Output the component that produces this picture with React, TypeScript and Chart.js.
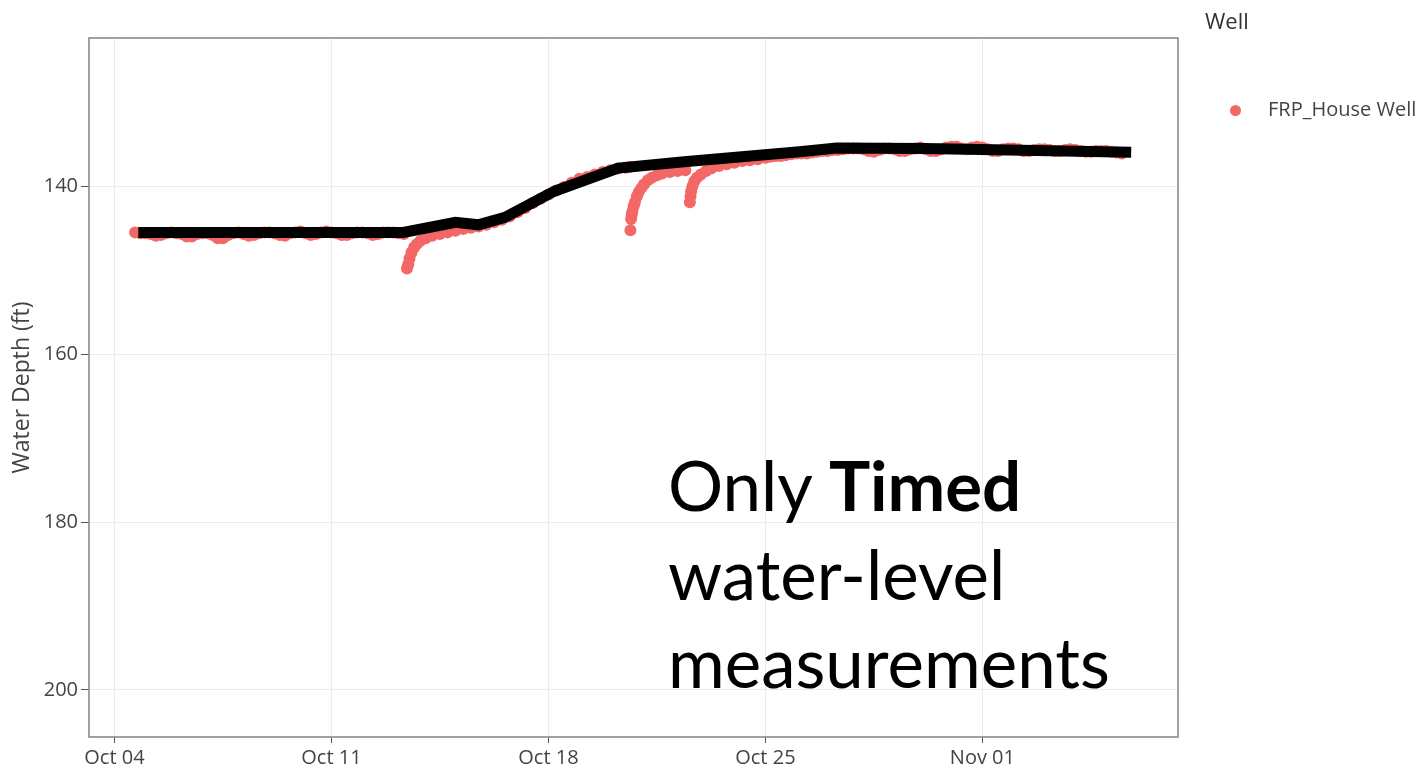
import React, { useEffect, useRef } from "react";
import { Chart, registerables } from "chart.js";

Chart.register(...registerables);

// ---------- axis ticks ----------
// x values are days since Oct 04 00:00
const xTickDays = [0, 7, 14, 21, 28];
const xTickLabels = ["Oct 04", "Oct 11", "Oct 18", "Oct 25", "Nov 01"];
const yTickValues = [140, 160, 180, 200];
const xMin = -0.82;
const xMax = 34.31;
const yMin = 122.35;
const yMax = 205.6;

// ---------- logger readings (FRP_House Well), water depth in ft ----------
// Before the first pumping event: readings every 4 h starting Oct 04 16:00
const preStartHour = 16;
const preStepHours = 4;
const preDepths = [
  145.5, 145.6,
  145.6, 145.7, 145.9, 145.8, 145.6, 145.5,
  145.6, 145.7, 146.0, 146.0, 145.7, 145.6,
  145.6, 145.8, 146.2, 146.2, 145.8, 145.6,
  145.5, 145.7, 145.9, 145.8, 145.6, 145.5,
  145.5, 145.6, 145.8, 145.9, 145.6, 145.5,
  145.4, 145.6, 145.8, 145.7, 145.5, 145.4,
  145.5, 145.6, 145.8, 145.8, 145.6, 145.5,
  145.5, 145.6, 145.8, 145.7, 145.5, 145.5,
  145.5, 145.6, 145.7,
];

// Recovery after pumping on Oct 13 and rise through Oct 20 (hours since Oct 04 00:00)
const recovery1Hours = [
  226.5, 227.5, 228.5, 230, 232, 234, 237, 241, 246, 252, 258, 264, 270, 276,
  282, 288, 294, 300, 306, 312, 318, 324, 330, 336, 342, 348, 354, 360, 366,
  372, 378, 384, 390, 396, 399,
];
const recovery1Depths = [
  149.8, 149.3, 148.6, 147.9, 147.3, 146.9, 146.5, 146.2, 145.9, 145.7, 145.5,
  145.3, 145.1, 144.95, 144.8, 144.6, 144.3, 144.0, 143.6, 143.1, 142.6, 142.0,
  141.5, 141.0, 140.5, 140.1, 139.6, 139.1, 138.9, 138.6, 138.3, 138.1, 137.9,
  137.8, 137.7,
];

// Recovery after pumping on Oct 20
const recovery2Hours = [
  399.5, 400, 400.5, 401, 402, 403, 404.5, 406, 408, 410, 413, 416, 420, 424,
  430, 436, 442,
];
const recovery2Depths = [
  145.25, 143.9, 143.4, 143.0, 142.4, 141.9, 141.2, 140.7, 140.2, 139.8, 139.3,
  139.0, 138.7, 138.5, 138.3, 138.2, 138.1,
];

// Recovery after pumping on Oct 22
const recovery3Hours = [
  445.5, 446, 446.5, 447.5, 449, 451, 454, 458, 462, 468, 474, 480, 486, 492,
  498, 504,
];
const recovery3Depths = [
  141.9, 141.2, 140.6, 140.0, 139.4, 139.0, 138.6, 138.2, 137.9, 137.6, 137.4,
  137.2, 137.0, 136.9, 136.8, 136.6,
];

// After the last pumping event: readings every 4 h starting Oct 25 04:00
const postStartHour = 508;
const postStepHours = 4;
const postDepths = [
  136.5, 136.4, 136.4, 136.3, 136.2,
  136.1, 136.1, 136.1, 136.0, 135.9, 135.8,
  135.8, 135.7, 135.7, 135.6, 135.5, 135.5,
  135.5, 135.6, 135.8, 135.9, 135.7, 135.5,
  135.5, 135.6, 135.8, 135.8, 135.6, 135.5,
  135.4, 135.6, 135.8, 135.8, 135.6, 135.4,
  135.3, 135.3, 135.5, 135.6, 135.4, 135.3,
  135.4, 135.6, 135.8, 135.8, 135.6, 135.5,
  135.5, 135.6, 135.8, 135.8, 135.7, 135.6,
  135.6, 135.7, 135.8, 135.8, 135.7, 135.6,
  135.7, 135.8, 135.9, 135.9, 135.8, 135.8,
  135.8, 135.9, 136.0, 136.1,
];

// ---------- timed (manual) water-level measurements ----------
const timedDays = [0.77, 9.32, 11.0, 11.74, 12.6, 14.19, 16.25, 18.38, 22.1, 23.3, 26.1, 27.5, 32.8];
const timedDepths = [145.5, 145.5, 144.3, 144.6, 143.7, 140.6, 137.85, 137.1, 135.9, 135.45, 135.5, 135.6, 135.95];

const wellName = "FRP_House Well";
const legendTitle = "Well";
const yTitle = "Water Depth (ft)";

const RED = "#F46767";

function regular(startHour: number, step: number, values: number[]) {
  return values.map((v, i) => ({ x: (startHour + i * step) / 24, y: v }));
}
function paired(hours: number[], values: number[]) {
  return values.map((v, i) => ({ x: hours[i] / 24, y: v }));
}

const framePlugin = {
  id: "frame",
  afterDraw(chart: any) {
    const { ctx, chartArea } = chart;
    ctx.save();
    ctx.strokeStyle = "#8a8a8a";
    ctx.lineWidth = 1.6;
    ctx.strokeRect(chartArea.left, chartArea.top, chartArea.right - chartArea.left, chartArea.bottom - chartArea.top);
    ctx.restore();
  },
};

export default function App() {
  const ref = useRef<HTMLCanvasElement | null>(null);

  useEffect(() => {
    if (!ref.current) return;
    const wellPoints = [
      ...regular(preStartHour, preStepHours, preDepths),
      ...paired(recovery1Hours, recovery1Depths),
      ...paired(recovery2Hours, recovery2Depths),
      ...paired(recovery3Hours, recovery3Depths),
      ...regular(postStartHour, postStepHours, postDepths),
    ];
    const timedPoints = timedDays.map((d, i) => ({ x: d, y: timedDepths[i] }));
    const tickFont = { family: "'Open Sans'", size: 20 };
    const chart = new Chart(ref.current, {
      type: "scatter",
      data: {
        datasets: [
          {
            label: "Timed",
            data: timedPoints,
            showLine: true,
            borderColor: "#000",
            backgroundColor: "#000",
            borderWidth: 11,
            borderCapStyle: "butt",
            borderJoinStyle: "miter",
            pointRadius: 0,
            order: 0,
          } as any,
          {
            label: wellName,
            data: wellPoints,
            backgroundColor: RED,
            borderWidth: 0,
            pointRadius: 6,
            order: 1,
          },
        ],
      },
      options: {
        responsive: false,
        animation: false,
        layout: { padding: { left: 0, top: 38, right: 247, bottom: 0 } },
        plugins: {
          legend: { display: false },
          tooltip: { enabled: false },
        },
        scales: {
          x: {
            type: "linear",
            min: xMin,
            max: xMax,
            afterBuildTicks: (axis: any) => {
              axis.ticks = xTickDays.map((v) => ({ value: v }));
            },
            afterFit: (axis: any) => {
              axis.height = 35;
            },
            ticks: {
              autoSkip: false,
              maxRotation: 0,
              color: "#444",
              font: tickFont,
              padding: 3,
              callback: (v: any) => {
                const i = xTickDays.indexOf(Number(v));
                return i >= 0 ? xTickLabels[i] : "";
              },
            },
            grid: { color: "#ebebeb", lineWidth: 1, tickColor: "#555", tickLength: 6 },
            border: { display: false },
          },
          y: {
            type: "linear",
            reverse: true,
            min: yMin,
            max: yMax,
            afterBuildTicks: (axis: any) => {
              axis.ticks = yTickValues.map((v) => ({ value: v }));
            },
            afterFit: (axis: any) => {
              axis.width = 89;
            },
            ticks: { color: "#444", font: tickFont, padding: 3 },
            grid: { color: "#ebebeb", lineWidth: 1, tickColor: "#555", tickLength: 8 },
            border: { display: false },
            title: {
              display: true,
              text: yTitle,
              color: "#444",
              font: { family: "'Open Sans'", size: 23 },
              padding: { top: 9, bottom: 0 },
            },
          },
        },
      },
      plugins: [framePlugin],
    });
    return () => chart.destroy();
  }, []);

  return (
    <div style={{ position: "absolute", left: 0, top: 0, width: 1425, height: 772, background: "#fff", overflow: "hidden" }}>
      <canvas ref={ref} width={1425} height={772} style={{ display: "block", width: 1425, height: 772 }} />
      <div style={{ position: "absolute", left: 1205, top: 9, fontFamily: "'Open Sans'", fontSize: 22, lineHeight: "22px", color: "#333", whiteSpace: "nowrap" }}>
        {legendTitle}
      </div>
      <div style={{ position: "absolute", left: 1230, top: 105, width: 11, height: 11, borderRadius: "50%", background: RED }} />
      <div style={{ position: "absolute", left: 1268, top: 99, fontFamily: "'Open Sans'", fontSize: 20, lineHeight: "20px", color: "#444", whiteSpace: "nowrap" }}>
        {wellName}
      </div>
      <div style={{ position: "absolute", left: 668, top: 441, fontFamily: "Lato", fontSize: 69, lineHeight: "88.5px", color: "#000", whiteSpace: "nowrap" }}>
        Only <b>Timed</b>
        <br />
        water-level
        <br />
        measurements
      </div>
    </div>
  );
}
